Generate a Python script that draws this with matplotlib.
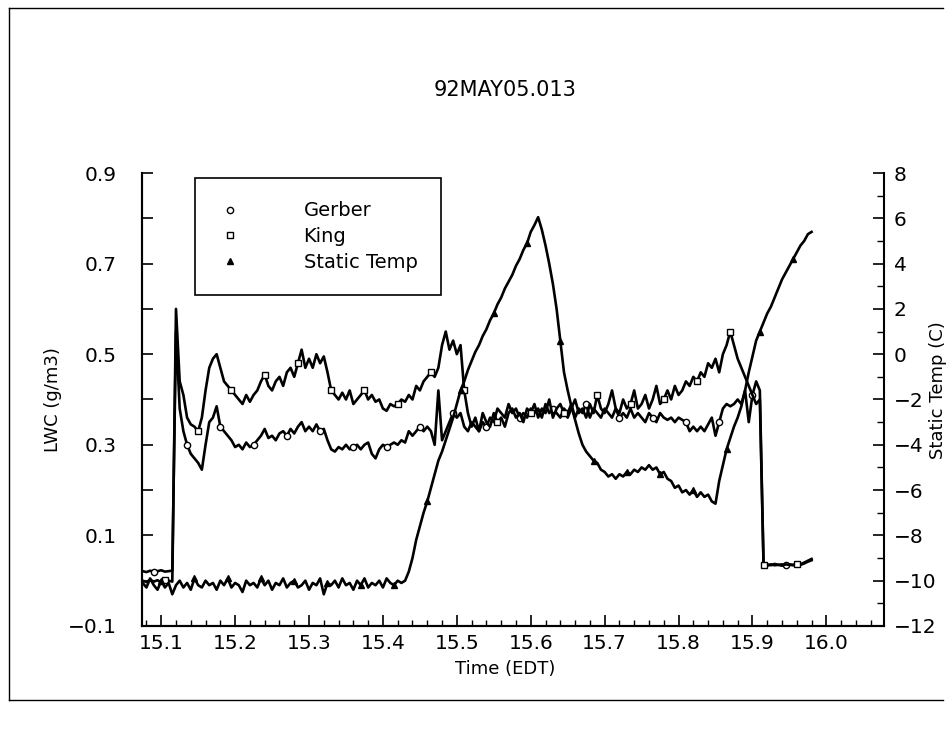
import numpy as np
import matplotlib
matplotlib.use("Agg")
import matplotlib.pyplot as plt
from matplotlib.lines import Line2D
from matplotlib.ticker import MultipleLocator, FuncFormatter

# time grid start / step (hours, EDT)
t0 = 15.075
dt = 0.005

# LWC King probe (g/m3)
king = [0.000, -0.003, 0.002, -0.002, 0.001, -0.004, 0.002, 0.000, -0.002,
        0.60, 0.44, 0.41, 0.36, 0.345, 0.34, 0.33, 0.36, 0.42, 0.47, 0.49,
        0.50, 0.47, 0.44, 0.43, 0.42, 0.41, 0.40, 0.39, 0.41, 0.395,
        0.41, 0.42, 0.44, 0.455, 0.43, 0.42, 0.44, 0.45, 0.43, 0.46,
        0.47, 0.45, 0.48, 0.51, 0.47, 0.49, 0.47, 0.50, 0.48, 0.495,
        0.46, 0.42, 0.41, 0.40, 0.415, 0.40, 0.42, 0.39, 0.40, 0.41,
        0.42, 0.40, 0.41, 0.395, 0.40, 0.38, 0.375, 0.39, 0.385, 0.39,
        0.40, 0.395, 0.41, 0.40, 0.43, 0.42, 0.44, 0.45, 0.46, 0.45,
        0.47, 0.52, 0.55, 0.51, 0.53, 0.50, 0.52, 0.42, 0.37, 0.34,
        0.36, 0.33, 0.37, 0.35, 0.34, 0.37, 0.35, 0.36, 0.34, 0.37,
        0.38, 0.36, 0.37, 0.35, 0.38, 0.37, 0.39, 0.36, 0.38, 0.37,
        0.40, 0.36, 0.38, 0.39, 0.37, 0.36, 0.38, 0.40, 0.37, 0.38,
        0.36, 0.39, 0.37, 0.41, 0.38, 0.37, 0.39, 0.42, 0.38, 0.37,
        0.40, 0.38, 0.39, 0.42, 0.38, 0.39, 0.41, 0.38, 0.40, 0.43,
        0.39, 0.40, 0.42, 0.40, 0.43, 0.41, 0.42, 0.44, 0.43, 0.45,
        0.44, 0.46, 0.45, 0.48, 0.47, 0.49, 0.46, 0.50, 0.52, 0.55,
        0.52, 0.49, 0.47, 0.45, 0.43, 0.41, 0.39, 0.40,
        0.035, 0.033, 0.036, 0.034, 0.035, 0.033, 0.036, 0.035, 0.034,
        0.036, 0.035, 0.038, 0.042, 0.045]

# LWC Gerber probe (g/m3)
gerber = [0.021, 0.019, 0.022, 0.020, 0.021, 0.023, 0.020, 0.021, 0.022,
          0.55, 0.38, 0.33, 0.30, 0.28, 0.27, 0.26, 0.245, 0.30, 0.35, 0.36,
          0.385, 0.34, 0.33, 0.32, 0.31, 0.295, 0.30, 0.29, 0.305, 0.295,
          0.30, 0.31, 0.32, 0.335, 0.315, 0.32, 0.31, 0.325, 0.33, 0.32,
          0.335, 0.325, 0.34, 0.35, 0.33, 0.34, 0.33, 0.345, 0.33, 0.335,
          0.31, 0.29, 0.285, 0.295, 0.29, 0.30, 0.29, 0.295, 0.30, 0.29,
          0.30, 0.305, 0.28, 0.27, 0.29, 0.30, 0.295, 0.30, 0.305, 0.30,
          0.31, 0.305, 0.33, 0.32, 0.33, 0.34, 0.33, 0.34, 0.33, 0.30,
          0.42, 0.31, 0.33, 0.35, 0.37, 0.36, 0.37, 0.34, 0.33, 0.35,
          0.34, 0.33, 0.35, 0.34, 0.36, 0.35, 0.38, 0.37, 0.36, 0.39,
          0.37, 0.38, 0.36, 0.37, 0.36, 0.38, 0.37, 0.38, 0.36, 0.39,
          0.37, 0.38, 0.37, 0.36, 0.38, 0.37, 0.39, 0.36, 0.38, 0.37,
          0.39, 0.36, 0.38, 0.37, 0.36, 0.38, 0.37, 0.36, 0.38, 0.36,
          0.37, 0.36, 0.38, 0.36, 0.37, 0.36, 0.35, 0.37, 0.36, 0.35,
          0.37, 0.36, 0.355, 0.36, 0.35, 0.36, 0.355, 0.35, 0.33, 0.34,
          0.33, 0.34, 0.33, 0.345, 0.36, 0.32, 0.35, 0.38, 0.39, 0.385,
          0.39, 0.40, 0.39, 0.42, 0.35, 0.41, 0.44, 0.42,
          0.038, 0.036, 0.034, 0.037, 0.035, 0.036, 0.034, 0.036, 0.035,
          0.037, 0.036, 0.040, 0.044, 0.048]

# static temperature (C)
temp = [-10.1, -10.3, -9.9, -10.2, -10.4, -10.0, -10.3, -10.1, -10.6, -10.2,
        -10.0, -10.3, -10.1, -10.4, -9.9, -10.2, -10.3, -10.0, -10.2, -10.1,
        -10.4, -10.0, -10.2, -9.9, -10.3, -10.1, -10.2, -10.5, -10.0, -10.2,
        -10.1, -10.3, -9.9, -10.2, -10.0, -10.4, -10.1, -10.2, -9.9, -10.3,
        -10.1, -10.0, -10.3, -10.2, -10.0, -10.4, -10.1, -10.2, -9.9, -10.6,
        -10.1, -10.2, -10.0, -10.3, -9.9, -10.2, -10.1, -10.4, -10.0, -10.2,
        -9.9, -10.3, -10.1, -10.2, -10.0, -10.3, -9.9, -10.1, -10.2, -10.0,
        -10.1,
        -10.0, -9.6, -9.0, -8.2, -7.6, -7.0, -6.5, -5.9, -5.3, -4.7,
        -4.3, -3.8, -3.3, -2.8, -2.2, -1.6, -1.2, -0.7, -0.3, 0.1,
        0.4, 0.8, 1.1, 1.5, 1.8, 2.2, 2.5, 2.9, 3.2, 3.5,
        3.9, 4.2, 4.6, 4.9, 5.4, 5.7, 6.05, 5.5, 4.8, 4.0,
        3.1, 2.0, 0.6, -0.8, -1.6, -2.3, -2.9, -3.5, -4.0, -4.3,
        -4.5, -4.7, -4.8, -5.1, -5.2, -5.4, -5.3, -5.5, -5.3, -5.4,
        -5.2, -5.3, -5.1, -5.2, -5.0, -5.1, -4.9, -5.1, -5.0, -5.3,
        -5.2, -5.5, -5.6, -5.9, -5.8, -6.1, -6.0, -6.2, -6.0, -6.3,
        -6.1, -6.3, -6.2, -6.5, -6.6, -5.6, -4.9, -4.2, -3.7, -3.2,
        -2.8, -2.3, -1.6, -0.8, -0.1, 0.6, 1.0, 1.4, 1.8, 2.1,
        2.5, 2.9, 3.3, 3.6, 3.9, 4.2, 4.5, 4.8, 5.0, 5.3, 5.4]

time_k = t0 + dt * np.arange(len(king))
time_g = t0 + dt * np.arange(len(gerber))
time_t = t0 + dt * np.arange(len(temp))

fig = plt.figure(figsize=(9.53, 7.3), dpi=100)
ax = fig.add_axes([0.149, 0.1425, 0.7786, 0.6205])
ax2 = ax.twinx()

lw = 1.9
ax.plot(time_g, gerber, color='black', lw=lw, marker='o', ms=4.5, mfc='white',
        mec='black', mew=1.0, markevery=(3, 9))
ax.plot(time_k, king, color='black', lw=lw, marker='s', ms=4.0, mfc='white',
        mec='black', mew=1.0, markevery=(6, 9))
ax2.plot(time_t, temp, color='black', lw=lw, marker='^', ms=4.0, mfc='black',
         mec='black', markevery=(5, 9))

ax.set_xlim(15.074, 16.078)
ax.set_ylim(-0.1, 0.9)
ax2.set_ylim(-12, 8)


def fmt1(v, pos):
    return ('%.1f' % v).replace('-', '\u2212')


ax.xaxis.set_major_locator(MultipleLocator(0.1))
ax.xaxis.set_minor_locator(MultipleLocator(0.02))
ax.xaxis.set_major_formatter(FuncFormatter(fmt1))
ax.set_yticks(np.arange(-0.1, 0.91, 0.2))
ax.yaxis.set_major_formatter(FuncFormatter(fmt1))
ax.yaxis.set_minor_locator(MultipleLocator(0.1))
ax2.yaxis.set_major_locator(MultipleLocator(2))
ax2.yaxis.set_minor_locator(MultipleLocator(1))

for a in (ax, ax2):
    a.spines['top'].set_visible(False)
    for s in a.spines.values():
        s.set_linewidth(1.5)
ax.spines['right'].set_visible(False)

ax.tick_params(axis='x', which='major', direction='in', length=8, width=1.2,
               labelsize=14.5, pad=6)
ax.tick_params(axis='x', which='minor', direction='in', length=4, width=1.0)
ax.tick_params(axis='y', which='major', direction='in', length=8, width=1.2,
               labelsize=14.5, pad=18)
ax.tick_params(axis='y', which='minor', direction='in', length=8, width=1.2)
ax2.tick_params(axis='y', which='major', direction='in', length=8, width=1.2,
                labelsize=14.5, pad=7)
ax2.tick_params(axis='y', which='minor', direction='in', length=5, width=1.0)

ax.set_xlabel('Time (EDT)', fontsize=13)
ax.xaxis.set_label_coords(0.49, -0.075)
ax.set_ylabel('LWC (g/m3)', fontsize=13)
ax.yaxis.set_label_coords(-0.108, 0.5)
ax2.set_ylabel('Static Temp (C)', fontsize=13)
ax2.yaxis.set_label_coords(1.06, 0.52)

fig.text(505 / 953, 1 - 90 / 730, '92MAY05.013', ha='center', va='center',
         fontsize=15)

handles = [
    Line2D([], [], ls='none', marker='o', ms=4.5, mfc='white', mec='black', mew=1.0),
    Line2D([], [], ls='none', marker='s', ms=4.0, mfc='white', mec='black', mew=1.0),
    Line2D([], [], ls='none', marker='^', ms=4.5, mfc='black', mec='black'),
]
leg = ax2.legend(handles, ['Gerber', 'King', 'Static Temp'], loc='upper left',
                 bbox_to_anchor=(0.071, 0.989), fontsize=14, frameon=True,
                 fancybox=False, framealpha=1, edgecolor='black',
                 borderpad=1.2, labelspacing=0.35, handlelength=1.2,
                 handletextpad=3.2, borderaxespad=0)
leg.get_frame().set_linewidth(1.2)

# scan page border
for xs, ys in [([0.0094, 0.0094], [0.041, 0.989]),
               ([0.0094, 0.99], [0.989, 0.989]),
               ([0.0094, 0.99], [0.041, 0.041])]:
    fig.add_artist(Line2D(xs, ys, transform=fig.transFigure, color='black', lw=1.0))

fig.savefig('out.png', dpi=100)
